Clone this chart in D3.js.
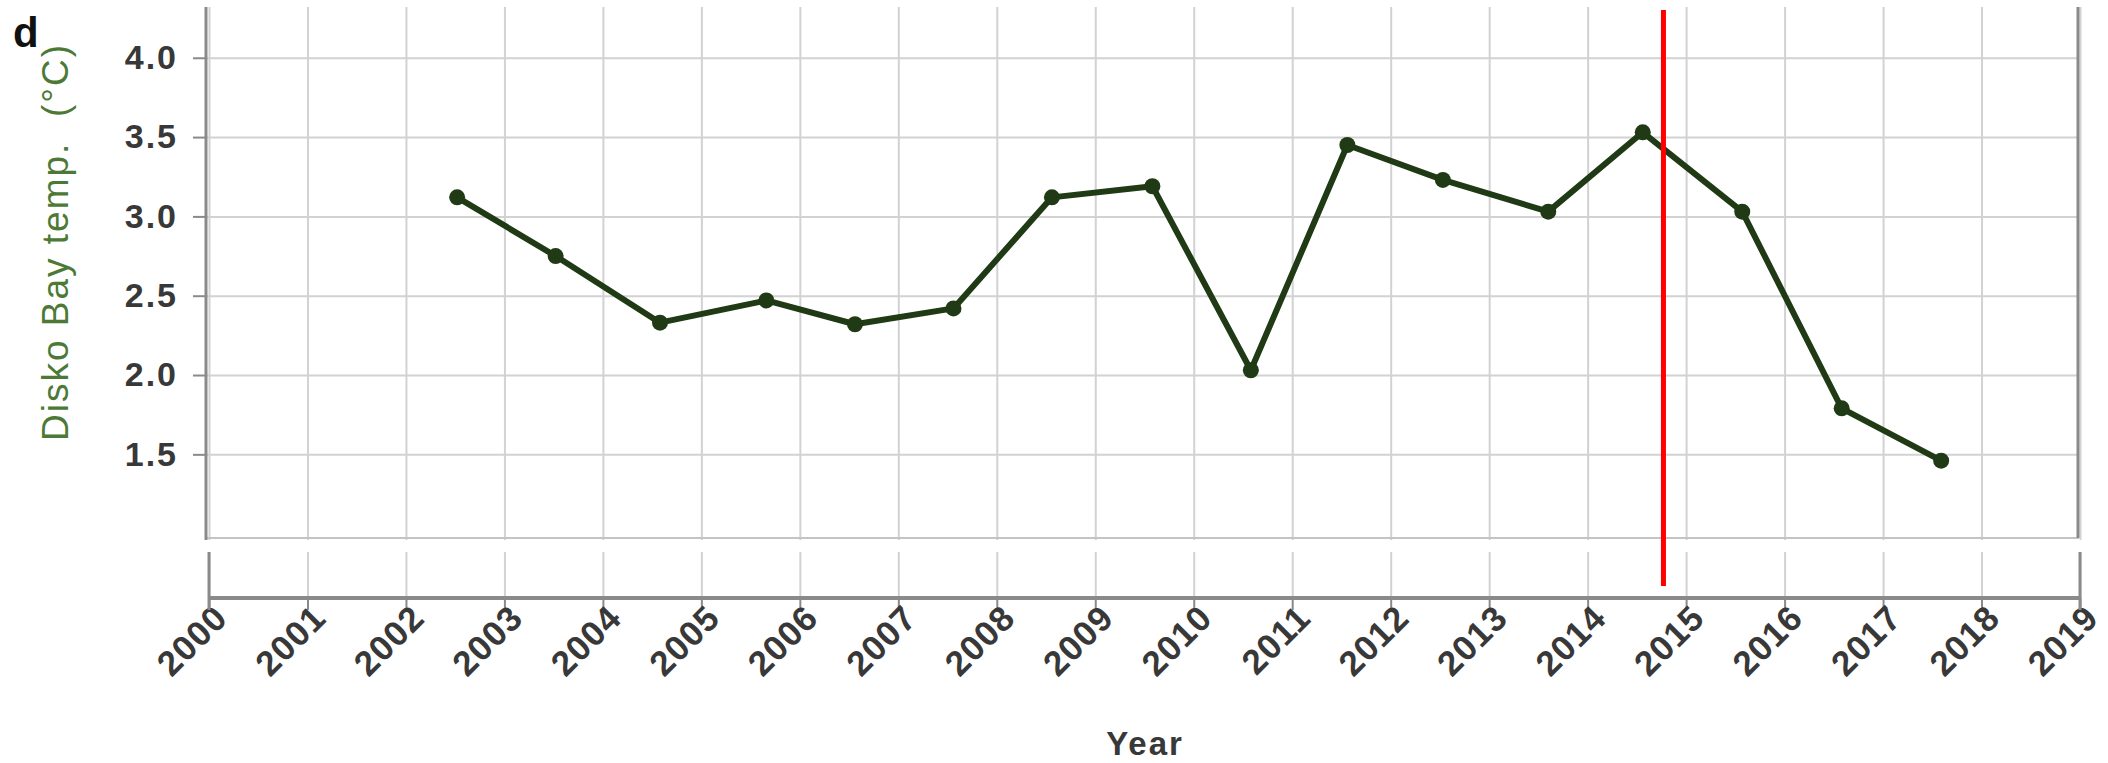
<!DOCTYPE html>
<html>
<head>
<meta charset="utf-8">
<script src="https://cdn.jsdelivr.net/npm/d3@7"></script>
<style>
  body { margin: 0; background: #fff; }
  text { font-family: "Liberation Sans", Arial, Helvetica, sans-serif; }
</style>
</head>
<body>
<div id="disko_dataviz"></div>
<script>
// data (decimal years, deg C)
const years = [2002.52, 2003.52, 2004.58, 2005.66, 2006.56, 2007.56, 2008.56, 2009.58,
               2010.58, 2011.56, 2012.53, 2013.6, 2014.56, 2015.57, 2016.58, 2017.59];
const temps = [3.12, 2.75, 2.33, 2.47, 2.32, 2.42, 3.12, 3.19,
               2.03, 3.45, 3.23, 3.03, 3.53, 3.03, 1.79, 1.46];
const yTicks = [1.5, 2.0, 2.5, 3.0, 3.5, 4.0];
const xTicks = [2000, 2001, 2002, 2003, 2004, 2005, 2006, 2007, 2008, 2009,
                2010, 2011, 2012, 2013, 2014, 2015, 2016, 2017, 2018, 2019];
const markerYear = 2014.77;

const width = 2108, height = 763;
const plot = {left: 206, right: 2079, top: 7, bottom: 540};
const strip = {top: 552, axis: 598};

const svg = d3.select("#disko_dataviz")
  .append("svg")
  .attr("width", width)
  .attr("height", height);

const x = d3.scaleLinear().domain([2000, 2019]).range([209, 2080]);
const y = d3.scaleLinear().domain([0.96, 4.32]).range([plot.bottom, plot.top]);

// horizontal grid
svg.append("g")
  .attr("transform", `translate(${plot.left},0)`)
  .call(d3.axisLeft(y).tickValues(yTicks).tickSize(-(plot.right - plot.left)).tickFormat(""))
  .call(g => g.select(".domain").remove())
  .selectAll("line").attr("stroke", "#d2d2d2").attr("stroke-width", 2);

// vertical grid, upper panel
svg.append("g")
  .attr("transform", `translate(0,${plot.bottom})`)
  .call(d3.axisBottom(x).tickValues(xTicks).tickSize(-(plot.bottom - plot.top)).tickFormat(""))
  .call(g => g.select(".domain").remove())
  .selectAll("line").attr("stroke", "#d2d2d2").attr("stroke-width", 2);

// bottom edge of the upper panel
svg.append("line")
  .attr("x1", plot.left).attr("x2", plot.right)
  .attr("y1", plot.bottom - 2).attr("y2", plot.bottom - 2)
  .attr("stroke", "#c4c4c4").attr("stroke-width", 2);

// right edge
svg.append("line")
  .attr("x1", plot.right - 1).attr("x2", plot.right - 1)
  .attr("y1", plot.top).attr("y2", plot.bottom - 2)
  .attr("stroke", "#8a8a8a").attr("stroke-width", 3);

// y axis
const yAxis = svg.append("g")
  .attr("transform", `translate(${plot.left},0)`)
  .call(d3.axisLeft(y).tickValues(yTicks).tickFormat(d3.format(".1f")).tickSize(13).tickPadding(15));
yAxis.select(".domain").remove();
yAxis.selectAll("line").attr("stroke", "#8a8a8a").attr("stroke-width", 2);
yAxis.selectAll("text")
  .attr("fill", "#383838")
  .style("font-size", "34px")
  .style("font-weight", "bold")
  .style("letter-spacing", "2px");

svg.append("line")
  .attr("x1", plot.left).attr("x2", plot.left)
  .attr("y1", plot.top).attr("y2", plot.bottom)
  .attr("stroke", "#8a8a8a").attr("stroke-width", 3);

// lower strip: vertical grid
svg.append("g")
  .attr("transform", `translate(0,${strip.axis})`)
  .call(d3.axisBottom(x).tickValues(xTicks).tickSize(-(strip.axis - strip.top)).tickFormat(""))
  .call(g => g.select(".domain").remove())
  .selectAll("line").attr("stroke", "#d2d2d2").attr("stroke-width", 2);

// lower strip: x axis
const xAxis = svg.append("g")
  .attr("transform", `translate(0,${strip.axis})`)
  .call(d3.axisBottom(x).tickValues(xTicks).tickFormat(d3.format("d")).tickSize(12));
xAxis.select(".domain")
  .attr("d", `M${x(2000)},0H${x(2019)}`)
  .attr("stroke", "#8a8a8a").attr("stroke-width", 4);
xAxis.selectAll("line").attr("stroke", "#8a8a8a").attr("stroke-width", 2);
xAxis.selectAll("text")
  .attr("fill", "#383838")
  .style("font-size", "35px")
  .style("font-weight", "bold")
  .style("letter-spacing", "1px")
  .style("text-anchor", "end")
  .attr("y", 0).attr("dy", 0)
  .attr("transform", "translate(20,22)rotate(-45)");

// strip side edges
svg.append("line")
  .attr("x1", x(2000)).attr("x2", x(2000))
  .attr("y1", strip.top).attr("y2", strip.axis + 12)
  .attr("stroke", "#8a8a8a").attr("stroke-width", 3);
svg.append("line")
  .attr("x1", x(2019)).attr("x2", x(2019))
  .attr("y1", strip.top).attr("y2", strip.axis + 12)
  .attr("stroke", "#8a8a8a").attr("stroke-width", 3);

// series
const data = years.map((d, i) => ({year: d, temp: temps[i]}));
svg.append("path")
  .datum(data)
  .attr("fill", "none")
  .attr("stroke", "#1f3a14")
  .attr("stroke-width", 6)
  .attr("stroke-linejoin", "round")
  .attr("d", d3.line().x(d => x(d.year)).y(d => y(d.temp)));

svg.selectAll("circle.pt")
  .data(data)
  .join("circle")
  .attr("class", "pt")
  .attr("cx", d => x(d.year))
  .attr("cy", d => y(d.temp))
  .attr("r", 8)
  .attr("fill", "#1f3a14");

// red marker
svg.append("line")
  .attr("x1", x(markerYear)).attr("x2", x(markerYear))
  .attr("y1", 10).attr("y2", 586)
  .attr("stroke", "#ff0000").attr("stroke-width", 5);

// labels
svg.append("text")
  .attr("x", 13).attr("y", 47)
  .style("font-size", "42px").style("font-weight", "bold")
  .attr("fill", "#111")
  .text("d");

svg.append("text")
  .attr("transform", `translate(68,242)rotate(-90)`)
  .style("text-anchor", "middle")
  .style("font-size", "37px")
  .style("letter-spacing", "2px")
  .style("white-space", "pre")
  .attr("fill", "#4c7a36")
  .text("Disko Bay temp.  (°C)");

svg.append("text")
  .attr("x", 1145).attr("y", 755)
  .style("text-anchor", "middle")
  .style("font-size", "33px")
  .style("font-weight", "bold")
  .style("letter-spacing", "2px")
  .attr("fill", "#383838")
  .text("Year");
</script>
</body>
</html>
